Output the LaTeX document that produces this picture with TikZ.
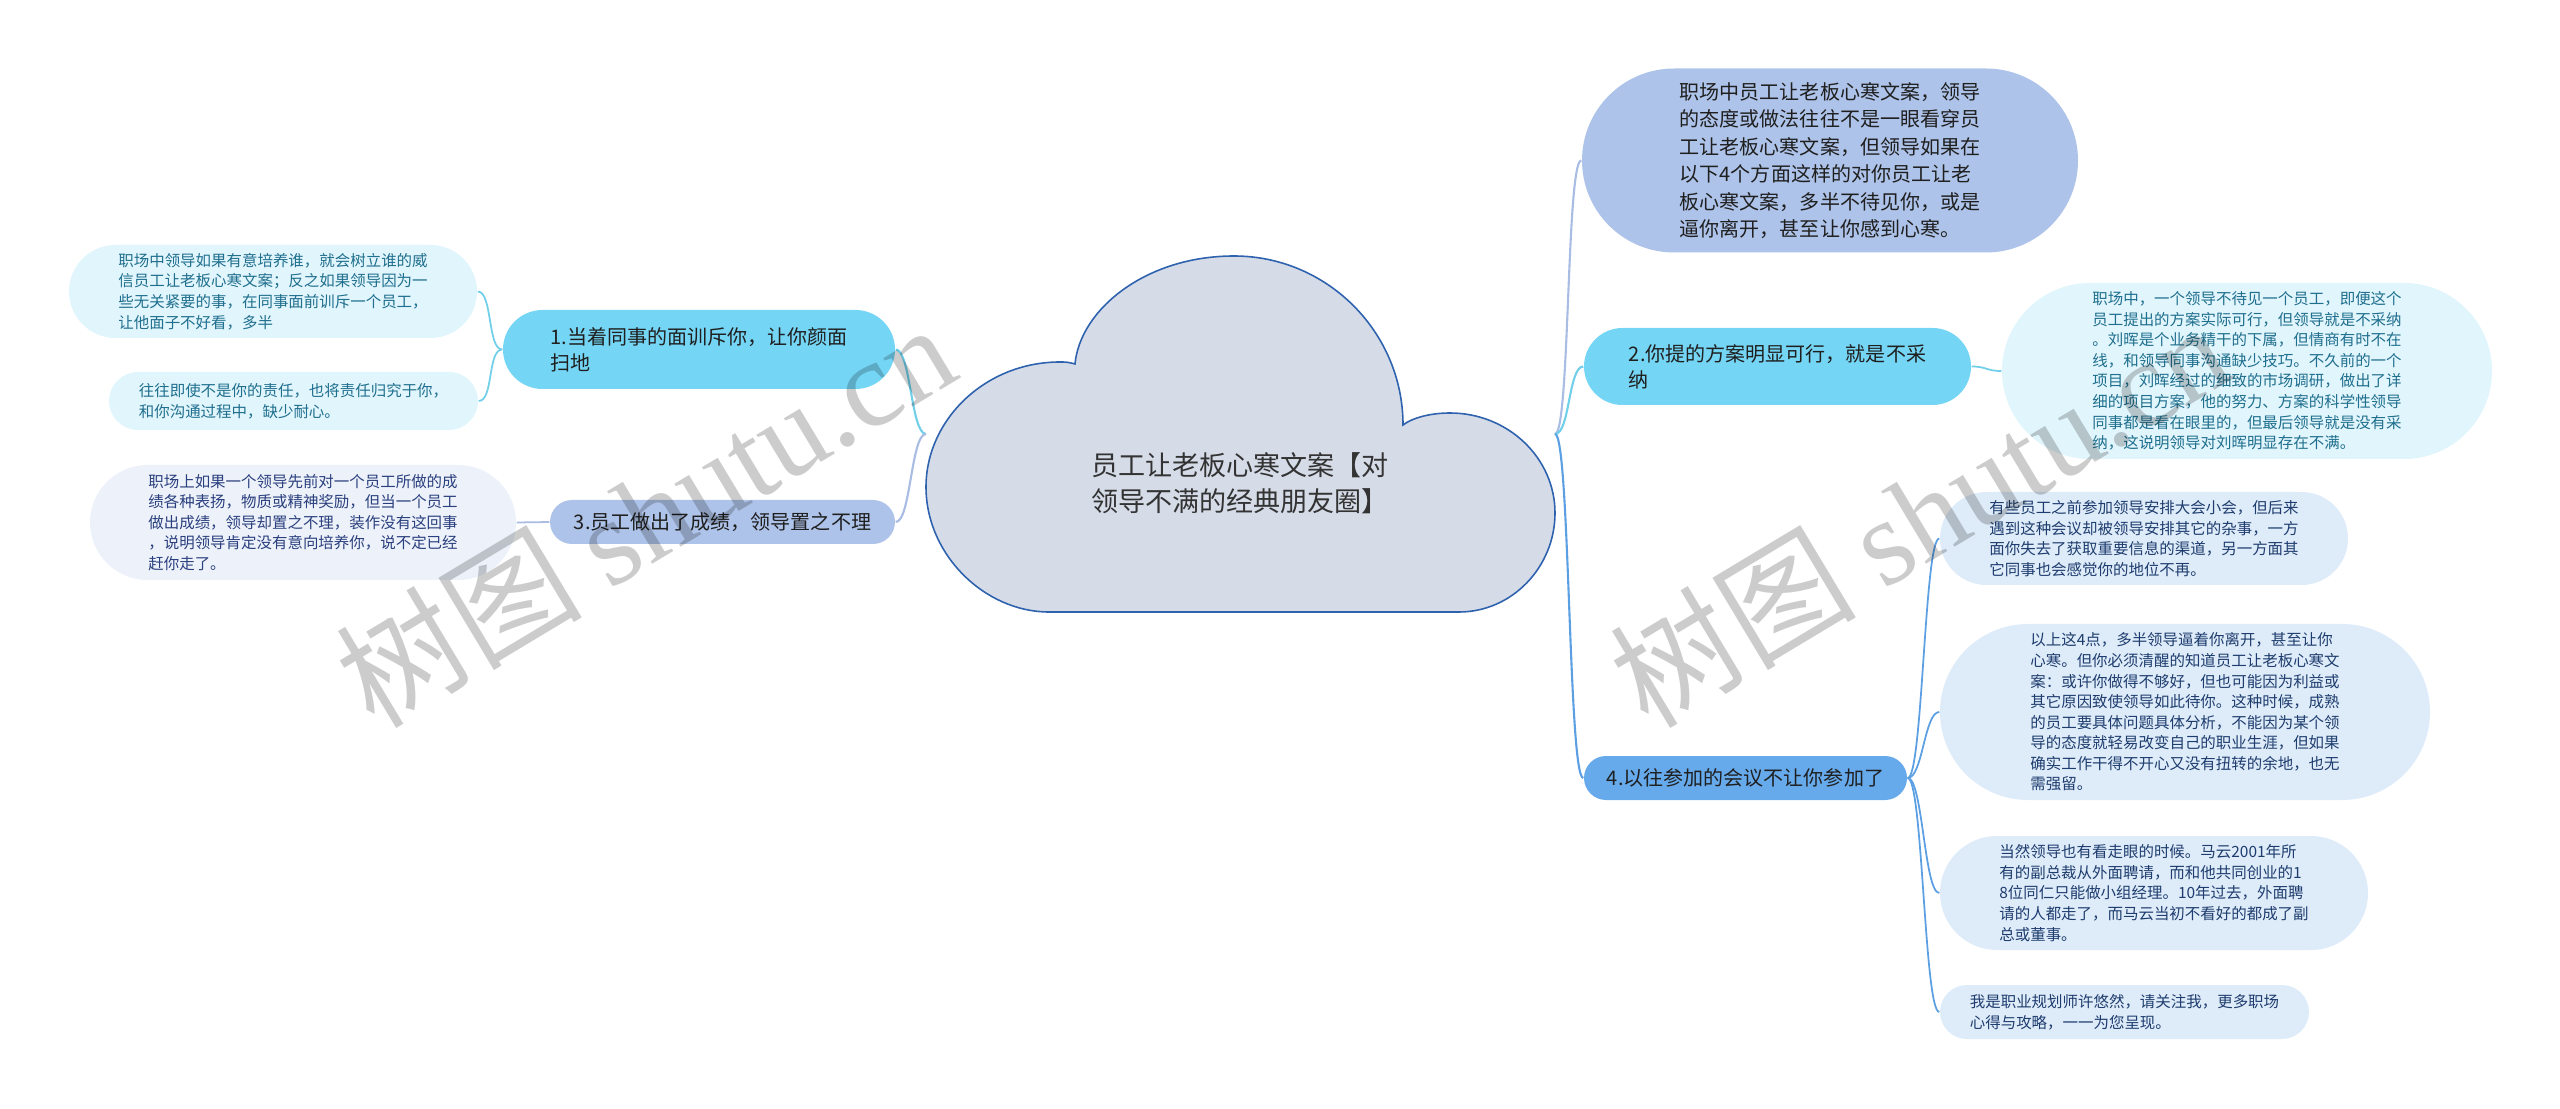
\documentclass[tikz,border=0pt]{standalone}
\usepackage{fontspec}
\setmainfont{Noto Sans CJK SC}
\newfontfamily\wmserif{Liberation Serif}
\usetikzlibrary{shapes.misc}

\definecolor{cloudfill}{HTML}{D5DCE8}
\definecolor{cloudedge}{HTML}{2F62AE}
\definecolor{lavfill}{HTML}{AEC3E9}
\definecolor{cyanfill}{HTML}{74D5F4}
\definecolor{bluefill}{HTML}{66AAEC}
\definecolor{leafcyan}{HTML}{E1F5FC}
\definecolor{leaflav}{HTML}{EDF2FA}
\definecolor{leafblue}{HTML}{DEEBF9}
\definecolor{textcyan}{HTML}{1F6F8E}
\definecolor{textlav}{HTML}{2A3F7E}
\definecolor{textblue}{HTML}{1E3D6E}
\definecolor{linecyan}{HTML}{72CFEA}
\definecolor{linelav}{HTML}{A9BCE3}
\definecolor{lineblue}{HTML}{5C9FE2}

\tikzset{
  pill/.style={rounded rectangle, inner sep=0pt, align=left, text=black!88},
  topic/.style={pill, font=\fontsize{5.7}{7.4}\selectfont},
  leaf/.style={pill, font=\fontsize{4.4}{5.85}\selectfont},
  link/.style={line width=0.6pt},
  twig/.style={line width=0.5pt},
  wmark/.style={text=black, text opacity=0.2, font=\fontsize{35}{35}\selectfont, rotate=31, inner sep=0pt}
}

\begin{document}
\begin{tikzpicture}
  \useasboundingbox (0,0) rectangle (25.6,-11.09);
  %% Cloud
  \draw[line width=0.45pt, draw=cloudedge, fill=cloudfill] (10.49,-6.12) -- (14.59,-6.12)
    .. controls (15.12,-6.12) and (15.55,-5.67) .. (15.55,-5.13)
    .. controls (15.55,-4.58) and (15.08,-4.13) .. (14.50,-4.13)
    .. controls (14.30,-4.13) and (14.12,-4.18) .. (14.03,-4.25)
    .. controls (14.03,-3.32) and (13.27,-2.56) .. (12.34,-2.56)
    .. controls (11.45,-2.56) and (10.80,-3.10) .. (10.75,-3.64)
    .. controls (10.68,-3.62) and (10.65,-3.62) .. (10.60,-3.62)
    .. controls (9.85,-3.62) and (9.26,-4.20) .. (9.26,-4.87)
    .. controls (9.26,-5.55) and (9.85,-6.12) .. (10.49,-6.12) -- cycle;
  \node[font=\fontsize{7.7}{10.4}\selectfont, align=left, text=black!80] (root) at (12.40,-4.83)
    {员工让老板心寒文案【对\\领导不满的经典朋友圈】};
  \coordinate (rootL) at (9.26,-4.34);
  \coordinate (rootR) at (15.55,-4.34);

  %% Left side
  \node[topic, fill=cyanfill, minimum width=3.92cm, minimum height=0.79cm] (b1) at (6.99,-3.495)
    {1.当着同事的面训斥你，让你颜面\\扫地};
  \node[topic, fill=lavfill, minimum width=3.45cm, minimum height=0.44cm] (b3) at (7.225,-5.22)
    {3.员工做出了成绩，领导置之不理};
  \node[leaf, fill=leafcyan, text=textcyan, minimum width=4.08cm, minimum height=0.93cm] (l1) at (2.73,-2.915)
    {职场中领导如果有意培养谁，就会树立谁的威\\信员工让老板心寒文案；反之如果领导因为一\\些无关紧要的事，在同事面前训斥一个员工，\\让他面子不好看，多半};
  \node[leaf, fill=leafcyan, text=textcyan, minimum width=3.69cm, minimum height=0.58cm] (l2) at (2.935,-4.01)
    {往往即使不是你的责任，也将责任归究于你，\\和你沟通过程中，缺少耐心。};
  \node[leaf, fill=leaflav, text=textlav, minimum width=4.26cm, minimum height=1.15cm] (l3) at (3.03,-5.225)
    {职场上如果一个领导先前对一个员工所做的成\\绩各种表扬，物质或精神奖励，但当一个员工\\做出成绩，领导却置之不理，装作没有这回事\\，说明领导肯定没有意向培养你，说不定已经\\赶你走了。};
  \draw[link, linecyan] (rootL) .. controls +(-0.15,0) and +(0.15,0) .. (b1.east);
  \draw[link, linelav] (rootL) .. controls +(-0.15,0) and +(0.15,0) .. (b3.east);
  \draw[twig, linecyan] (b1.west) .. controls +(-0.15,0) and +(0.15,0) .. (l1.east);
  \draw[twig, linecyan] (b1.west) .. controls +(-0.15,0) and +(0.15,0) .. (l2.east);
  \draw[twig, linelav] (b3.west) -- (l3.east);

  %% Right side
  \node[pill, font=\fontsize{5.7}{7.8}\selectfont, fill=lavfill, minimum width=4.96cm, minimum height=1.84cm] (r0) at (18.30,-1.605)
    {职场中员工让老板心寒文案，领导\\的态度或做法往往不是一眼看穿员\\工让老板心寒文案，但领导如果在\\以下4个方面这样的对你员工让老\\板心寒文案，多半不待见你，或是\\逼你离开，甚至让你感到心寒。};
  \node[topic, fill=cyanfill, minimum width=3.87cm, minimum height=0.77cm] (r1) at (17.775,-3.665)
    {2.你提的方案明显可行，就是不采\\纳};
  \node[leaf, fill=leafcyan, text=textcyan, minimum width=4.90cm, minimum height=1.76cm] (r1x) at (22.47,-3.71)
    {职场中，一个领导不待见一个员工，即便这个\\员工提出的方案实际可行，但领导就是不采纳\\。刘晖是个业务精干的下属，但情商有时不在\\线，和领导同事沟通缺少技巧。不久前的一个\\项目，刘晖经过的细致的市场调研，做出了详\\细的项目方案，他的努力、方案的科学性领导\\同事都是看在眼里的，但最后领导就是没有采\\纳，这说明领导对刘晖明显存在不满。};
  \node[topic, fill=bluefill, minimum width=3.23cm, minimum height=0.44cm] (r4) at (17.455,-7.78)
    {4.以往参加的会议不让你参加了};
  \node[leaf, fill=leafblue, text=textblue, minimum width=4.08cm, minimum height=0.93cm] (r4a) at (21.44,-5.385)
    {有些员工之前参加领导安排大会小会，但后来\\遇到这种会议却被领导安排其它的杂事，一方\\面你失去了获取重要信息的渠道，另一方面其\\它同事也会感觉你的地位不再。};
  \node[leaf, fill=leafblue, text=textblue, minimum width=4.90cm, minimum height=1.76cm] (r4b) at (21.85,-7.12)
    {以上这4点，多半领导逼着你离开，甚至让你\\心寒。但你必须清醒的知道员工让老板心寒文\\案：或许你做得不够好，但也可能因为利益或\\其它原因致使领导如此待你。这种时候，成熟\\的员工要具体问题具体分析，不能因为某个领\\导的态度就轻易改变自己的职业生涯，但如果\\确实工作干得不开心又没有扭转的余地，也无\\需强留。};
  \node[leaf, fill=leafblue, text=textblue, minimum width=4.28cm, minimum height=1.14cm] (r4c) at (21.54,-8.93)
    {当然领导也有看走眼的时候。马云2001年所\\有的副总裁从外面聘请，而和他共同创业的1\\8位同仁只能做小组经理。10年过去，外面聘\\请的人都走了，而马云当初不看好的都成了副\\总或董事。};
  \node[leaf, fill=leafblue, text=textblue, minimum width=3.69cm, minimum height=0.54cm] (r4d) at (21.245,-10.12)
    {我是职业规划师许悠然，请关注我，更多职场\\心得与攻略，一一为您呈现。};
  \draw[link, linelav] (rootR) .. controls +(0.15,0) and +(-0.15,0) .. (r0.west);
  \draw[link, linecyan] (rootR) .. controls +(0.15,0) and +(-0.15,0) .. (r1.west);
  \draw[link, lineblue] (rootR) .. controls +(0.15,0) and +(-0.15,0) .. (r4.west);
  \draw[twig, linecyan] (r1.east) .. controls +(0.15,0) and +(-0.15,0) .. (r1x.west);
  \draw[twig, lineblue] (r4.east) .. controls +(0.15,0) and +(-0.15,0) .. (r4a.west);
  \draw[twig, lineblue] (r4.east) .. controls +(0.15,0) and +(-0.15,0) .. (r4b.west);
  \draw[twig, lineblue] (r4.east) .. controls +(0.15,0) and +(-0.15,0) .. (r4c.west);
  \draw[twig, lineblue] (r4.east) .. controls +(0.15,0) and +(-0.15,0) .. (r4d.west);

  %% Watermark
  \node[wmark] (wmL) at (6.45,-5.14) {树图 {\wmserif shutu.cn}};
  \node[wmark] (wmR) at (19.19,-5.14) {树图 {\wmserif shutu.cn}};
\end{tikzpicture}
\end{document}
